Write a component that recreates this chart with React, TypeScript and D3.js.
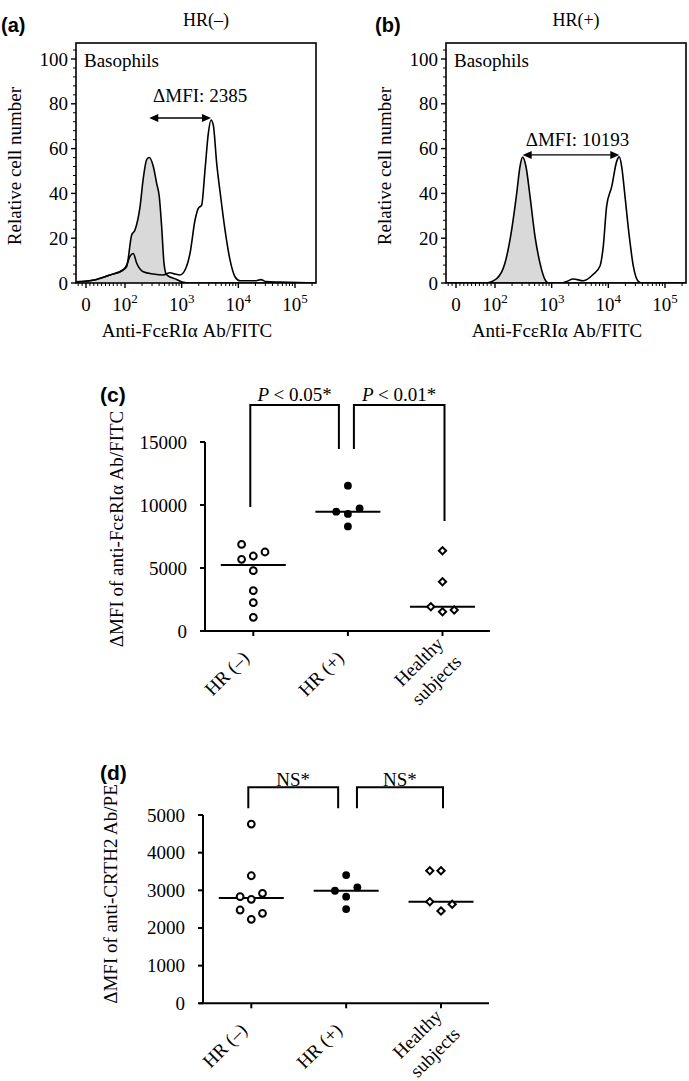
import React from 'react';
import * as d3 from 'd3';

const SERIF = '"Liberation Serif", "Times New Roman", Times, serif';
const SANS = '"Liberation Sans", Arial, Helvetica, sans-serif';

// ---- (a)/(b) flow histograms: anti-FcεRIα/FITC fluorescence vs relative cell number
const histXTicks = [0, 1e2, 1e3, 1e4, 1e5];
const histXExps = ['', '2', '3', '4', '5'];
const histYTicks = [0, 20, 40, 60, 80, 100];

// HR(-) isotype control (grey filled)
const aIsoFl = [-26, 27, 62, 95, 107, 131, 150, 184, 210, 242, 268, 316, 362, 403, 444, 488, 544, 817, 1069, 1400, 235000];
const aIsoCount = [0.5, 1.6, 3.6, 5.8, 7.3, 21.4, 23.7, 34, 46.7, 55.2, 56, 52, 44.5, 38.5, 25, 8.8, 3.6, 1.6, 0.3, 0, 0];
// HR(-) anti-FcεRIα
const aAbFl = [-26, 27, 62, 95, 107, 123, 140, 161, 210, 316, 474, 622, 763, 935, 1146, 1403, 1719, 1965, 2254, 2580, 2954, 3297, 3617, 4150, 4883, 5820, 7130, 8730, 10700, 19680, 25100, 30800, 54300, 235000];
const aAbCount = [0.5, 1.6, 3.6, 5.8, 8, 12, 13.2, 8.8, 5, 4, 3.6, 4.6, 4, 3.6, 5.8, 13.2, 28, 33.3, 34.8, 50.4, 66.8, 72.8, 70.5, 53.4, 38.5, 23.7, 10.3, 2.8, 1, 1, 1.5, 0.6, 0.4, 0];

// HR(+) isotype control
const bIsoFl = [-26, 74, 107, 150, 197, 242, 276, 308, 352, 415, 508, 622, 763, 873, 1500, 235000];
const bIsoCount = [0, 0, 2, 8.9, 23.8, 40.2, 52, 56.2, 52, 38.7, 20.8, 8.9, 1.5, 0, 0, 0];
// HR(+) anti-FcεRIα
const bAbFl = [-26, 1500, 1841, 2410, 3615, 5430, 7130, 8150, 9350, 11460, 14050, 15610, 17200, 19680, 23440, 27560, 33800, 38800, 235000];
const bAbCount = [0, 0, 0.7, 1.8, 1, 3.9, 7.6, 16.5, 34.4, 43, 54.3, 56.3, 52, 38.7, 20.8, 7.6, 0.7, 0, 0];

// ---- (c)/(d) dot plots
const groupLabels = [['HR (–)'], ['HR (+)'], ['Healthy', 'subjects']];
const groupKeys = ['hrNeg', 'hrPos', 'healthy'];

const fceriTicks = [0, 5000, 10000, 15000];
const fceriHRneg = [1087, 2246, 3198, 4786, 5690, 5952, 6270, 6870];
const fceriHRpos = [8300, 9290, 9468, 9738, 11532];
const fceriHealthy = [1532, 1929, 1667, 3913, 6373];

const crth2Ticks = [0, 1000, 2000, 3000, 4000, 5000];
const crth2HRneg = [2230, 2477, 2389, 2761, 2830, 2920, 3387, 4760];
const crth2HRpos = [2503, 2830, 2989, 3079, 3406];
const crth2Healthy = [2450, 2697, 2628, 3520, 3520];

const fceriBrackets = [
  { a: 0, b: 1, label: '< 0.05*', top: 17937, legA: 9841, legB: 14444 },
  { a: 1, b: 2, label: '< 0.01*', top: 17937, legA: 14444, legB: 8730 },
];
const crth2Brackets = [
  { a: 0, b: 1, label: 'NS*', top: 5734, legA: 5177, legB: 5177 },
  { a: 1, b: 2, label: 'NS*', top: 5734, legA: 5177, legB: 5177 },
];

type Curve = { fl: number[]; count: number[] };

function Histogram({ x0, letter, letterX, title, iso, ab, mfi, mfiDx, mfiDy, clipId }: any) {
  const top = 43;
  const lin = d3.scaleLinear().domain([0, 100]).range([x0 + 10, x0 + 49]);
  const log = d3.scaleLog().domain([100, 1e5]).range([x0 + 49, x0 + 219]);
  const fx = (v: number) => (v < 100 ? lin(v) : log(v));
  const y = d3.scaleLinear().domain([0, 100]).range([283, 59]);
  const bottom = y(0);

  const pts = (c: Curve) => c.fl.map((f, i) => [f, c.count[i]] as [number, number]);
  const line = d3.line<[number, number]>().x(d => fx(d[0])).y(d => y(d[1])).curve(d3.curveMonotoneX);
  const area = d3.area<[number, number]>().x(d => fx(d[0])).y0(bottom).y1(d => y(d[1])).curve(d3.curveMonotoneX);

  const isoPeak = d3.greatest(pts(iso), d => d[1])!;
  const abPeak = d3.greatest(pts(ab), d => d[1])!;
  const arrowY = y(Math.max(isoPeak[1], abPeak[1])) - 2;
  const xa = fx(isoPeak[0]);
  const xb = fx(abPeak[0]);

  const minorX: number[] = [];
  for (let v = -20; v < 100; v += 10) if (v !== 0) minorX.push(v);
  for (let e = 2; e <= 4; e++) for (let k = 2; k <= 9; k++) minorX.push(k * 10 ** e);
  minorX.push(2e5);
  const minorY: number[] = [];
  for (let v = 4; v <= 104; v += 4) if (v % 20 !== 0) minorY.push(v);

  return (
    <g>
      <defs>
        <clipPath id={clipId}>
          <rect x={x0} y={top} width={240} height={bottom - top} />
        </clipPath>
      </defs>
      <text x={letterX} y={32} fontFamily={SANS} fontWeight="bold" fontSize={20}>{letter}</text>
      <text x={x0 + 130} y={26} fontSize={18} textAnchor="middle">{title}</text>
      <g transform={`translate(${x0 - 55.5},166)`}>
        <text transform="rotate(-90)" fontSize={19} textAnchor="middle">Relative cell number</text>
      </g>

      <g clipPath={`url(#${clipId})`}>
        <path d={area(pts(iso))!} fill="#d9d9d9" stroke="none" />
        <path d={line(pts(iso))!} fill="none" stroke="#000" strokeWidth={1.6} />
        <path d={line(pts(ab))!} fill="none" stroke="#000" strokeWidth={1.6} />
      </g>

      <rect x={x0} y={top} width={240} height={bottom - top} fill="none" stroke="#000" strokeWidth={1.6} />

      {histYTicks.map(t => (
        <g key={t}>
          <line x1={x0 - 5} x2={x0} y1={y(t)} y2={y(t)} stroke="#000" strokeWidth={1.4} />
          <text x={x0 - 8} y={y(t) + 6.5} fontSize={19} textAnchor="end">{t}</text>
        </g>
      ))}
      {minorY.map(t => (
        <line key={t} x1={x0 - 3} x2={x0} y1={y(t)} y2={y(t)} stroke="#000" strokeWidth={1} />
      ))}
      {histXTicks.map((t, i) => (
        <g key={t}>
          <line x1={fx(t)} x2={fx(t)} y1={bottom} y2={bottom + 5} stroke="#000" strokeWidth={1.4} />
          <text x={fx(t)} y={311} fontSize={19} textAnchor="middle">
            {histXExps[i] ? '10' : '0'}
            {histXExps[i] ? <tspan dy={-8} fontSize={13}>{histXExps[i]}</tspan> : null}
          </text>
        </g>
      ))}
      {minorX.map(t => (
        <line key={t} x1={fx(t)} x2={fx(t)} y1={bottom} y2={bottom + 3} stroke="#000" strokeWidth={1} />
      ))}

      <text x={x0 + 8} y={66.5} fontSize={19}>Basophils</text>

      <line x1={xa + 7} x2={xb - 7} y1={arrowY} y2={arrowY} stroke="#000" strokeWidth={1.4} />
      <path d={`M${xa},${arrowY} L${xa + 9},${arrowY - 4} L${xa + 9},${arrowY + 4} Z`} fill="#000" />
      <path d={`M${xb},${arrowY} L${xb - 9},${arrowY - 4} L${xb - 9},${arrowY + 4} Z`} fill="#000" />
      <text x={(xa + xb) / 2 + mfiDx} y={arrowY + mfiDy} fontSize={19} textAnchor="middle">{mfi}</text>

      <text x={x0 + 111} y={337} fontSize={19} textAnchor="middle">Anti-FcεRIα Ab/FITC</text>
    </g>
  );
}

function swarm(values: number[], y: (v: number) => number, minGap: number) {
  const placed: { slot: number; py: number }[] = [];
  return values.map(v => {
    const py = y(v);
    const slot = [0, -1, 1, -2, 2].find(s => placed.every(p => p.slot !== s || Math.abs(p.py - py) >= minGap)) ?? 0;
    placed.push({ slot, py });
    return { v, py, slot };
  });
}

function DotPlot({ letter, letterY, yLabel, yLabelX, yLabelY, ticks, yDomainMax, yBottom, yTop, axisX, xStart, xEnd, catRange, series, brackets, colStep, textGap, innerL, innerR }: any) {
  const y = d3.scaleLinear().domain([0, yDomainMax]).range([yBottom, yTop]);
  const x = d3.scalePoint<string>().domain(groupKeys).range(catRange);
  const symDiamond = d3.symbol(d3.symbolSquare, 26)()!;

  return (
    <g>
      <text x={100} y={letterY} fontFamily={SANS} fontWeight="bold" fontSize={21}>{letter}</text>
      <g transform={`translate(${yLabelX},${yLabelY})`}>
        <text transform="rotate(-90)" fontSize={19} textAnchor="middle">{yLabel}</text>
      </g>

      <line x1={axisX} x2={axisX} y1={yTop} y2={yBottom} stroke="#000" strokeWidth={2} />
      <line x1={xStart} x2={xEnd} y1={yBottom} y2={yBottom} stroke="#000" strokeWidth={2} />
      {ticks.map((t: number) => (
        <g key={t}>
          <line x1={axisX - 5} x2={axisX} y1={y(t)} y2={y(t)} stroke="#000" strokeWidth={2} />
          <text x={axisX - 18} y={y(t) + 6.5} fontSize={19} textAnchor="end">{t}</text>
        </g>
      ))}
      {groupKeys.map((k, i) => {
        const cx = x(k)!;
        const lines = groupLabels[i];
        const single = lines.length === 1;
        return (
          <g key={k}>
            <line x1={cx} x2={cx} y1={yBottom} y2={yBottom + 5} stroke="#000" strokeWidth={2} />
            {lines.map((ln, li) => (
              <g key={li} transform={`translate(${cx + (single ? -3 : 2) + li * 18},${yBottom + (single ? 28 : 14) + li * 18})`}>
                <text transform="rotate(-45)" fontSize={19} textAnchor="end">{ln}</text>
              </g>
            ))}
          </g>
        );
      })}

      {brackets.map((b: any, i: number) => {
        const xa = x(groupKeys[b.a])! + (i === 0 ? -3 : innerR);
        const xb = x(groupKeys[b.b])! + (i === 0 ? innerL : 2);
        const ty = y(b.top);
        return (
          <g key={i}>
            <path d={`M${xa},${y(b.legA)} V${ty} H${xb} V${y(b.legB)}`} fill="none" stroke="#000" strokeWidth={2} />
            <text x={(xa + xb) / 2} y={ty - textGap} fontSize={19} textAnchor="middle">
              {b.label.startsWith('<') ? <tspan fontStyle="italic">P </tspan> : null}
              {b.label}
            </text>
          </g>
        );
      })}

      {groupKeys.map((k, gi) => {
        const cx = x(k)!;
        const vals: number[] = series[gi];
        const med = d3.median(vals)!;
        const pts = swarm(vals, y, 11.8);
        return (
          <g key={k}>
            <line x1={cx - 32.5} x2={cx + 32.5} y1={y(med)} y2={y(med)} stroke="#000" strokeWidth={2} />
            {pts.map((p, j) => {
              const px = cx + p.slot * colStep;
              if (gi === 0) return <circle key={j} cx={px} cy={p.py} r={3.4} fill="#fff" stroke="#000" strokeWidth={2} />;
              if (gi === 1) return <circle key={j} cx={px} cy={p.py} r={3.9} fill="#000" />;
              return <path key={j} d={symDiamond} transform={`translate(${px},${p.py}) rotate(45)`} fill="#fff" stroke="#000" strokeWidth={2} />;
            })}
          </g>
        );
      })}
    </g>
  );
}

export default function App() {
  return (
    <svg width={689} height={1081} viewBox="0 0 689 1081" fontFamily={SERIF}
      style={{ position: 'absolute', left: 0, top: 0, background: '#fff' }}>
      <rect width={689} height={1081} fill="#fff" />
      <Histogram x0={76} letter="(a)" letterX={1} title="HR(–)" clipId="clipA"
        iso={{ fl: aIsoFl, count: aIsoCount }} ab={{ fl: aAbFl, count: aAbCount }}
        mfi="ΔMFI: 2385" mfiDx={20} mfiDy={-15.5} />
      <Histogram x0={446} letter="(b)" letterX={375} title="HR(+)" clipId="clipB"
        iso={{ fl: bIsoFl, count: bIsoCount }} ab={{ fl: bAbFl, count: bAbCount }}
        mfi="ΔMFI: 10193" mfiDx={6.5} mfiDy={-9} />
      <DotPlot letter="(c)" letterY={402} yLabel="ΔMFI of anti-FcεRIα Ab/FITC" yLabelX={123} yLabelY={529}
        ticks={fceriTicks} yDomainMax={15000} yBottom={631} yTop={442} axisX={205} xStart={200} xEnd={490}
        catRange={[253.3, 442.5]} series={[fceriHRneg, fceriHRpos, fceriHealthy]} brackets={fceriBrackets}
        colStep={11.7} textGap={4} innerL={-9} innerR={6} />
      <DotPlot letter="(d)" letterY={780} yLabel="ΔMFI of anti-CRTH2 Ab/PE" yLabelX={117} yLabelY={894}
        ticks={crth2Ticks} yDomainMax={5000} yBottom={1003.3} yTop={815} axisX={203} xStart={199} xEnd={489}
        catRange={[251.3, 441]} series={[crth2HRneg, crth2HRpos, crth2Healthy]} brackets={crth2Brackets}
        colStep={11.2} textGap={1.5} innerL={-8} innerR={10.8} />
    </svg>
  );
}
